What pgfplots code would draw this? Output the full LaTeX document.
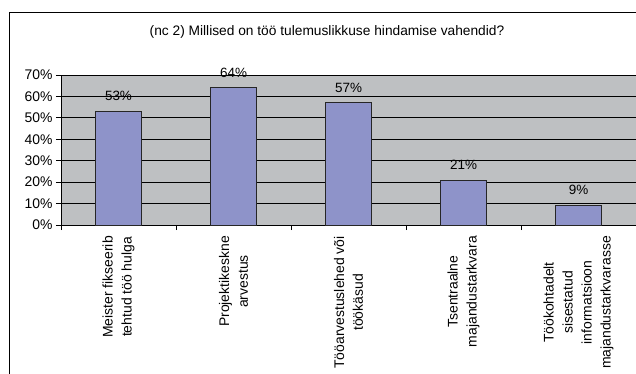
\documentclass[border=0pt]{standalone}
\usepackage{pgfplots}
\pgfplotsset{compat=1.18}
\usepackage{fontspec}
\setmainfont{Liberation Sans}
\definecolor{barfill}{RGB}{142,147,201}
\definecolor{plotbg}{RGB}{190,192,194}
\begin{document}
\begin{tikzpicture}[x=1bp,y=1bp]
\useasboundingbox (0,0) rectangle (636,373);
\clip (0,0) rectangle (636,373);
\fill[white] (0,0) rectangle (636,373);
\draw[black, line width=0.9bp] (9,-20) -- (9,361) -- (700,361);
\node[font=\fontsize{13.8}{15}\selectfont] at (327,341) {(nc 2) Millised on töö tulemuslikkuse hindamise vahendid?};
\begin{axis}[
  at={(61bp,148bp)}, anchor=south west,
  scale only axis, width=575bp, height=150bp,
  xmin=-0.5, xmax=4.5, ymin=0, ymax=70,
  axis background/.style={fill=plotbg},
  axis line style={black, line width=0.8bp},
  axis x line*=bottom, axis y line*=left,
  ybar, bar width=46bp,
  xtick={0,1,2,3,4},
  xticklabels={{Meister fikseerib\\tehtud töö hulga},{Projektikeskne\\arvestus},{Tööarvestuslehed või\\töökäsud},{Tsentraalne\\majandustarkvara},{Töökohtadelt\\sisestatud\\informatsioon\\majandustarkvarasse}},
  x tick label style={rotate=90, anchor=east, align=center, font=\fontsize{14}{19}\selectfont, inner sep=0pt, xshift=-6bp},
  major x tick style={draw=none},
  minor xtick={-0.5,0.5,1.5,2.5,3.5,4.5},
  minor x tick style={black, line width=0.8bp},
  ytick={0,10,...,70},
  yticklabel={\pgfmathprintnumber{\tick}\%},
  y tick label style={font=\fontsize{14}{16}\selectfont, /pgf/number format/assume math mode=true},
  ymajorgrids, grid style={black, line width=0.8bp},
  tick style={black, line width=0.8bp},
  tick align=outside, major tick length=5bp, minor tick length=5bp,
  nodes near coords={\pgfmathprintnumber{\pgfplotspointmeta}\%},
  nodes near coords style={font=\fontsize{13.5}{15}\selectfont, anchor=south, yshift=7bp, /pgf/number format/assume math mode=true},
  clip=false,
]
\addplot[fill=barfill, draw=black!85, line width=0.8bp] coordinates {(0,53) (1,64) (2,57) (3,21) (4,9)};
\end{axis}
\end{tikzpicture}
\end{document}
